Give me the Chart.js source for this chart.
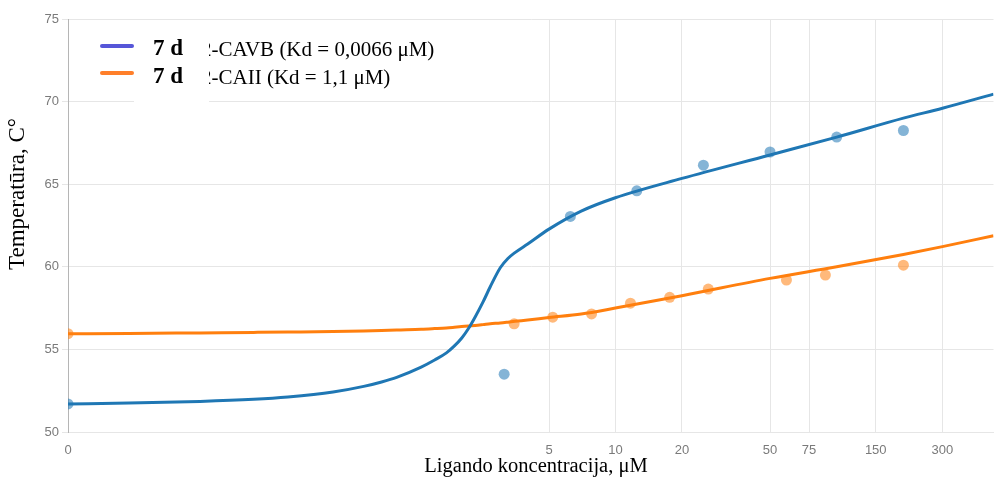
<!DOCTYPE html>
<html>
<head>
<meta charset="utf-8">
<script src="https://cdn.jsdelivr.net/npm/chart.js@4.4.0/dist/chart.umd.min.js"></script>
<style>
  body { margin: 0; background: #fff; overflow: hidden; }
  canvas { display: block; }
</style>
</head>
<body>
<canvas id="myChart" width="999" height="480"></canvas>
<script>
// measured melting temperatures
var cavbConc = [0, 3.125, 6.25, 12.5, 25, 50, 100, 200];
var cavbTemp = [51.7, 53.5, 63.05, 64.6, 66.15, 66.95, 67.85, 68.25];
var caiiConc = [0, 3.47, 5.2, 7.8, 11.7, 17.6, 26.3, 59.3, 88.9, 200];
var caiiTemp = [55.95, 56.55, 56.95, 57.15, 57.8, 58.15, 58.65, 59.2, 59.5, 60.1];

// fitted curves
var fitConc = [0, 0.03, 0.1, 0.2, 0.3, 0.5, 0.7, 0.85, 1, 1.3, 1.5, 1.7, 1.85, 2, 2.15, 2.3, 2.5, 2.7, 3, 3.25, 3.5, 4, 5, 7, 10, 20, 50, 100, 200, 300, 510];
var cavbFit = [51.7, 51.75, 51.85, 51.98, 52.12, 52.42, 52.76, 53.03, 53.31, 53.93, 54.36, 54.79, 55.21, 55.69, 56.28, 56.95, 57.86, 58.79, 59.94, 60.5, 60.86, 61.38, 62.28, 63.37, 64.18, 65.35, 66.77, 67.85, 69.0, 69.6, 70.45];
var caiiFit = [55.95, 55.96, 56.0, 56.03, 56.05, 56.08, 56.12, 56.15, 56.18, 56.22, 56.26, 56.3, 56.34, 56.38, 56.42, 56.45, 56.5, 56.55, 56.6, 56.65, 56.7, 56.78, 56.93, 57.14, 57.5, 58.25, 59.3, 60.0, 60.75, 61.22, 61.88];

var xTicks = [0, 5, 10, 20, 50, 75, 150, 300];
var xTitle = 'Ligando koncentracija, \u03BCM';
var yTitle = 'Temperat\u016Bra, C\u00B0';
var legendLabels = ['2-CAVB (Kd = 0,0066 \u03BCM)', '2-CAII (Kd = 1,1 \u03BCM)'];
var legendPrefix = '7 d';

// x axis is log10(c + C_OFFSET) so zero concentration still fits
var C_OFFSET = 0.034;
var X_MAX = 510;
function shift(c) { return Math.log10(c + C_OFFSET); }
function toXY(xs, ys) {
    return xs.map(function (x, i) { return {x: shift(x), y: ys[i]}; });
}

var BLUE = '#1f77b4';
var ORANGE = '#ff7f0e';
var SERIF = '"Liberation Serif", "Times New Roman", serif';

// axis titles and the legend with the "7 d" prefix pasted over each label
var decorations = {
    id: 'decorations',
    afterDatasetsDraw: function (chart) {
        var c = chart.ctx;
        var rows = [
            {color: '#5656d8', lineY: 46, base: 56},
            {color: '#ff7f2a', lineY: 73, base: 84}
        ];
        c.save();
        c.fillStyle = '#000';
        c.textBaseline = 'alphabetic';
        c.font = '21px ' + SERIF;
        rows.forEach(function (r, i) {
            c.fillText(legendLabels[i], 201, r.base);
        });
        c.fillStyle = '#fff';
        c.fillRect(134, 28, 75, 78);
        c.lineWidth = 4;
        c.lineCap = 'round';
        c.fillStyle = '#000';
        c.font = 'bold 23px ' + SERIF;
        rows.forEach(function (r) {
            c.strokeStyle = r.color;
            c.beginPath();
            c.moveTo(102, r.lineY);
            c.lineTo(132, r.lineY);
            c.stroke();
            c.fillText(legendPrefix, 153, r.base - 1);
        });

        c.textAlign = 'center';
        c.textBaseline = 'middle';
        c.font = '20.5px ' + SERIF;
        c.fillText(xTitle, 536, 467);
        c.translate(18, 194);
        c.rotate(-Math.PI / 2);
        c.font = '23px ' + SERIF;
        c.fillText(yTitle, 0, 0);
        c.restore();
    }
};

var ctx = document.getElementById('myChart').getContext('2d');
var chart = new Chart(ctx, {
    type: 'scatter',

    data: {
        datasets: [
            {
                label: legendLabels[0],
                type: 'line',
                data: toXY(fitConc, cavbFit),
                borderColor: BLUE,
                borderWidth: 3,
                pointRadius: 0,
                cubicInterpolationMode: 'monotone',
                order: 0
            },
            {
                label: legendLabels[1],
                type: 'line',
                data: toXY(fitConc, caiiFit),
                borderColor: ORANGE,
                borderWidth: 3,
                pointRadius: 0,
                cubicInterpolationMode: 'monotone',
                order: 0
            },
            {
                label: 'CAVB',
                data: toXY(cavbConc, cavbTemp),
                backgroundColor: 'rgba(31, 119, 180, 0.55)',
                borderWidth: 0,
                pointRadius: 5.5,
                order: 1
            },
            {
                label: 'CAII',
                data: toXY(caiiConc, caiiTemp),
                backgroundColor: 'rgba(255, 127, 14, 0.55)',
                borderWidth: 0,
                pointRadius: 5.5,
                order: 1
            }
        ]
    },

    options: {
        responsive: false,
        animation: false,
        layout: {padding: {top: 19, right: 1, bottom: 0, left: 0}},
        plugins: {
            legend: {display: false},
            tooltip: {enabled: false}
        },
        scales: {
            x: {
                type: 'linear',
                min: shift(0),
                max: shift(X_MAX),
                afterBuildTicks: function (scale) {
                    scale.ticks = xTicks.map(function (v) { return {value: shift(v)}; });
                },
                afterFit: function (scale) {
                    scale.height = 48;
                    scale.paddingLeft = 0;
                    scale.paddingRight = 0;
                },
                ticks: {
                    autoSkip: false,
                    maxRotation: 0,
                    padding: 11,
                    color: '#7a7a7a',
                    font: {family: '"Liberation Sans", Arial, sans-serif', size: 13},
                    callback: function (value, index) { return String(xTicks[index]); }
                },
                grid: {color: '#e6e6e6', lineWidth: 1, drawTicks: false},
                border: {color: '#e6e6e6'}
            },
            y: {
                min: 50,
                max: 75,
                afterFit: function (scale) { scale.width = 68; },
                ticks: {
                    stepSize: 5,
                    padding: 3,
                    color: '#7a7a7a',
                    font: {family: '"Liberation Sans", Arial, sans-serif', size: 13}
                },
                grid: {color: '#e6e6e6', lineWidth: 1, tickLength: 6},
                border: {color: '#b5b5b5'}
            }
        }
    },

    plugins: [decorations]
});
</script>
</body>
</html>
